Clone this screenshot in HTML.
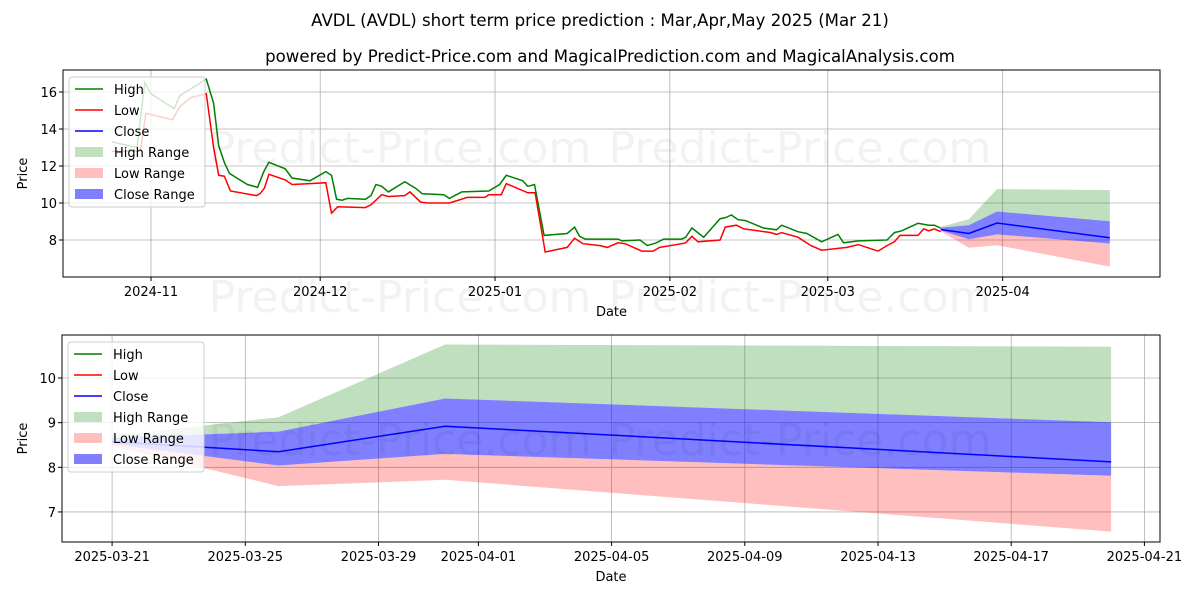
<!DOCTYPE html>
<html><head><meta charset="utf-8"><style>
body{margin:0;background:#fff}
svg{display:block;font-family:"DejaVu Sans","Liberation Sans",sans-serif}
</style></head><body>
<svg id="c" width="1200" height="600" xmlns="http://www.w3.org/2000/svg">
<text x="600" y="26" text-anchor="middle" font-size="16.6">AVDL (AVDL) short term price prediction : Mar,Apr,May 2025 (Mar 21)</text>
<text x="610" y="62" text-anchor="middle" font-size="16.6">powered by Predict-Price.com and MagicalPrediction.com and MagicalAnalysis.com</text>
<g id="top"></g>
<g id="bot"></g>
</svg>
<script>
// history (days from 2024-11-01)
const highDays=[-6.95,-2.5,-1.1,0,4.1,5.1,9.8,11.1,12.0,13.0,13.9,17.1,18.9,20.0,20.9,23.8,25.0,28.2,31.0,32.0,32.9,33.9,34.8,38.0,39.0,39.9,40.9,42.1,45.0,46.9,48.1,51.9,52.9,55.1,59.9,61.8,63.0,65.9,66.8,68.0,69.7,73.8,75.1,76.0,77.0,79.6,82.8,83.5,86.7,88.0,89.6,90.9,94.1,94.8,95.9,98.0,100.9,101.8,102.9,104.1,105.4,108.6,110.9,111.8,114.7,116.3,118.9,121.8,122.8,125.4,130.5,131.8,133.1,136.0,137.9,138.9,140.0];
const highVals=[13.3,13.0,16.5,15.9,15.1,15.8,16.7,15.4,13.1,12.2,11.6,11.0,10.85,11.7,12.2,11.85,11.35,11.2,11.7,11.5,10.2,10.15,10.25,10.2,10.4,11.0,10.9,10.6,11.15,10.8,10.5,10.45,10.25,10.6,10.65,11.0,11.5,11.2,10.9,11.0,8.25,8.35,8.7,8.2,8.05,8.05,8.05,7.95,8.0,7.7,7.85,8.05,8.05,8.15,8.65,8.15,9.15,9.2,9.35,9.1,9.05,8.65,8.55,8.8,8.45,8.35,7.9,8.3,7.85,7.95,8.0,8.4,8.5,8.9,8.8,8.8,8.65];
const lowDays=[-6.95,-1.9,-0.9,3.8,5.1,7.0,9.8,11.1,12.0,13.0,14.1,18.7,19.3,20.1,20.9,23.8,25.0,28.2,31.0,32.0,33.1,38.0,39.0,40.9,42.1,45.0,45.9,47.8,49.1,52.9,56.1,59.2,59.9,62.1,63.0,66.8,68.1,69.9,73.8,75.1,76.6,79.6,80.9,82.8,84.1,87.0,89.0,90.2,94.1,94.8,95.9,97.0,100.9,101.8,103.8,105.1,109.9,110.9,111.8,114.7,117.0,118.9,123.4,125.4,128.9,130.5,131.8,132.8,136.0,137.0,137.9,138.9,140.0];
const lowVals=[12.8,12.8,14.85,14.5,15.2,15.7,15.9,13.0,11.5,11.45,10.65,10.4,10.5,10.8,11.55,11.25,11.0,11.05,11.1,9.45,9.8,9.75,9.9,10.45,10.35,10.4,10.6,10.05,10.0,10.0,10.3,10.3,10.45,10.45,11.05,10.55,10.55,7.35,7.6,8.1,7.8,7.7,7.6,7.85,7.8,7.4,7.4,7.6,7.8,7.85,8.2,7.9,8.0,8.7,8.8,8.6,8.4,8.3,8.4,8.15,7.7,7.45,7.6,7.75,7.4,7.7,7.9,8.25,8.25,8.6,8.5,8.6,8.45];
// forecast (days from 2025-03-21)
const fDays=[0,5,10,30];
const closeVals=[8.57,8.35,8.92,8.12];
const highRangeTop=[8.71,9.12,10.75,10.70];
const closeRangeTop=[8.66,8.80,9.54,9.01];
const closeRangeBot=[8.52,8.04,8.30,7.81];
const lowRangeBot=[8.48,7.58,7.72,6.56];
const topYTicks=[8,10,12,14,16];
const topXTickDays=[0,30,61,92,120,151];
const topXTickLabels=["2024-11","2024-12","2025-01","2025-02","2025-03","2025-04"];
const botYTicks=[7,8,9,10];
const botXTickDays=[0,4,8,11,15,19,23,27,31];
const botXTickLabels=["2025-03-21","2025-03-25","2025-03-29","2025-04-01","2025-04-05","2025-04-09","2025-04-13","2025-04-17","2025-04-21"];
const FOFF=140;

const NS="http://www.w3.org/2000/svg";
function mk(p,t,a){const e=document.createElementNS(NS,t);for(const k in a)e.setAttribute(k,a[k]);p.appendChild(e);return e;}
function line(xs,ys,fx,fy){return xs.map((d,i)=>(i?"L":"M")+fx(d).toFixed(1)+","+fy(ys[i]).toFixed(1)).join("");}
function band(xs,a,b,fx,fy){let s=xs.map((d,i)=>(i?"L":"M")+fx(d).toFixed(1)+","+fy(a[i]).toFixed(1)).join("");for(let i=xs.length-1;i>=0;i--)s+="L"+fx(xs[i]).toFixed(1)+","+fy(b[i]).toFixed(1);return s+"Z";}

function panel(g,L,T,R,B,fx,fy,yt,xtd,xtl,hist,fdx){
  yt.forEach(v=>{const e=mk(g,"line",{x1:L,x2:R,y1:fy(v),y2:fy(v),stroke:"#b0b0b0","stroke-width":0.8});
    
    
    const t=mk(g,"text",{x:L-6,y:fy(v)+5,"text-anchor":"end","font-size":13});t.textContent=v;
    
    
    mk(g,"line",{x1:L-4,x2:L,y1:fy(v),y2:fy(v),stroke:"#000"});});
  xtd.forEach((d,i)=>{const e=mk(g,"line",{x1:fx(d),x2:fx(d),y1:T,y2:B,stroke:"#b0b0b0","stroke-width":0.8});
    
    
    mk(g,"line",{x1:fx(d),x2:fx(d),y1:B,y2:B+4,stroke:"#000"});
    const t=mk(g,"text",{x:fx(d),y:B+19,"text-anchor":"middle","font-size":13});t.textContent=xtl[i];
    
    });
  const ff=d=>fx(d+fdx);
  let e;
  e=mk(g,"path",{d:band(fDays,highRangeTop,closeRangeTop,ff,fy),fill:"#008000","fill-opacity":0.25});
  
  
  e=mk(g,"path",{d:band(fDays,closeRangeBot,lowRangeBot,ff,fy),fill:"#ff0000","fill-opacity":0.25});
  
  
  e=mk(g,"path",{d:band(fDays,closeRangeTop,closeRangeBot,ff,fy),fill:"#0000ff","fill-opacity":0.5});
  
  
  if(hist){
    e=mk(g,"path",{d:line(highDays,highVals,fx,fy),fill:"none",stroke:"#008000","stroke-width":1.5});
    
    
    e=mk(g,"path",{d:line(lowDays,lowVals,fx,fy),fill:"none",stroke:"#ff0000","stroke-width":1.5});
    
    
  }
  e=mk(g,"path",{d:line(fDays,closeVals,ff,fy),fill:"none",stroke:"#0000ff","stroke-width":1.5});
  
  
  e=mk(g,"rect",{x:L,y:T,width:R-L,height:B-T,fill:"none",stroke:"#000","stroke-width":1});
  
  
  const lg=mk(g,"g",{});
  
  
  mk(lg,"rect",{x:L+6,y:T+7,width:136,height:130,rx:3,fill:"#fff","fill-opacity":0.8,stroke:"#cccccc"});
  const items=[["High","#008000",0],["Low","#ff0000",0],["Close","#0000ff",0],["High Range","#008000",0.25],["Low Range","#ff0000",0.25],["Close Range","#0000ff",0.5]];
  items.forEach((it,i)=>{const y=T+19+i*21;
    if(it[2]) mk(lg,"rect",{x:L+12,y:y-5,width:28,height:10,fill:it[1],"fill-opacity":it[2]});
    else mk(lg,"line",{x1:L+12,x2:L+40,y1:y,y2:y,stroke:it[1],"stroke-width":1.5});
    const t=mk(lg,"text",{x:L+51,y:y+5,"font-size":13});t.textContent=it[0];
    
    });
  const xl=mk(g,"text",{x:(L+R)/2,y:B+39,"text-anchor":"middle","font-size":13});xl.textContent="Date";
  
  
  const yl=mk(g,"text",{x:0,y:0,"text-anchor":"middle","font-size":13,transform:`translate(27,${(T+B)/2}) rotate(-90)`});yl.textContent="Price";
  
  
}
const topPanel=document.getElementById("top"),botPanel=document.getElementById("bot");
panel(topPanel,63,70,1160,277,d=>151+d*5.64,v=>240-(v-8)*18.5,topYTicks,topXTickDays,topXTickLabels,true,FOFF);
panel(botPanel,62,335,1160,542,d=>112.1+d*33.3,v=>467.3-(v-8)*44.65,botYTicks,botXTickDays,botXTickLabels,false,0);
[[400,163],[800,163],[400,312],[800,312],[400,455],[800,455]].forEach(p=>{const t=mk(document.getElementById("c"),"text",{x:p[0],y:p[1],"text-anchor":"middle","font-size":44,fill:"#000","fill-opacity":0.05});t.textContent="Predict-Price.com";

});
</script>
</body></html>
